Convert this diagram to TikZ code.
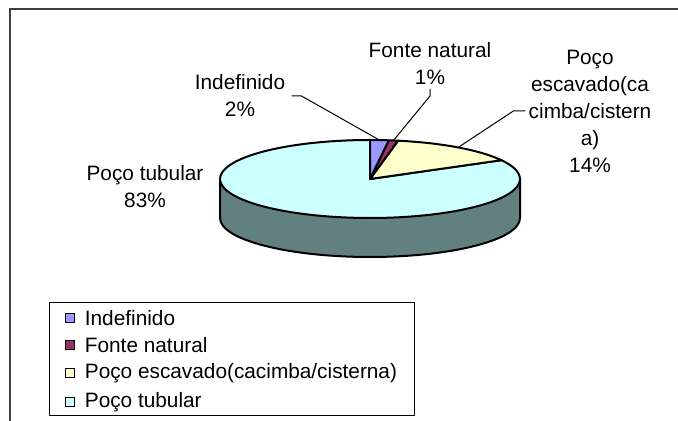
\documentclass[tikz,border=0pt]{standalone}
\usepackage{fontspec}
\setmainfont{Liberation Sans}
\usetikzlibrary{positioning}
\definecolor{ind}{RGB}{153,153,255}
\definecolor{fon}{RGB}{153,51,102}
\definecolor{esc}{RGB}{255,255,204}
\definecolor{tub}{RGB}{204,255,255}
\definecolor{side}{RGB}{99,128,128}
\definecolor{frame}{RGB}{64,64,64}
\tikzset{font=\fontsize{10.4}{13.5}\selectfont}
\tikzset{slice/.style={draw=black, line width=1pt, line join=round}}
\tikzset{lbl/.style={align=center, inner sep=0pt}}
\tikzset{leader/.style={line width=0.5pt}}
\tikzset{key/.style={draw=black, line width=0.5pt, minimum size=4.5pt, inner sep=0pt}}

\begin{document}
\begin{tikzpicture}[x=0.5pt, y=0.5pt]
  \useasboundingbox (0,0) rectangle (678,421);
  \draw[frame, line width=0.75pt] (678,412)--(10,412)--(10,0);

  \coordinate (C) at (370,242);
  % side of the pie
  \filldraw[slice, fill=side] (220,242) -- (220,203)
     arc[start angle=180, end angle=360, x radius=150, y radius=39] -- (520,242) -- cycle;
  % top of the pie
  \foreach \a/\b/\c in {28.8/-270/tub, 79.2/28.8/esc, 82.8/79.2/fon, 90/82.8/ind}{
    \filldraw[slice, fill=\c] (C) -- +(\a:150 and 39)
       arc[start angle=\a, end angle=\b, x radius=150, y radius=39] -- cycle;
  };

  \path (C) +(86.4:150 and 39) coordinate (pInd);
  \path (C) +(81:150 and 39) coordinate (pFon);
  \path (C) +(54:150 and 39) coordinate (pEsc);

  \node[lbl] (lblInd) at (240,325) {Indefinido\\2\%};
  \node[lbl] (lblFon) at (430,357.5) {Fonte natural\\1\%};
  \node[lbl] (lblEsc) at (590,310) {Poço\\escavado(ca\\cimba/cistern\\a)\\14\%};
  \node[lbl] (lblTub) at (145,234.5) {Poço tubular\\83\%};

  \draw[leader] ([xshift=3pt]lblInd.east) -- ++(10,0) -- (pInd);
  \draw[leader] ([yshift=-2pt]lblFon.south) -- ++(0,-7) -- (pFon);
  \draw[leader] ([xshift=-1.5pt]lblEsc.west) -- ++(-12,0) -- (pEsc);

  % legend
  \node[draw=black, line width=0.5pt, minimum width=182.5pt, minimum height=56.5pt,
        inner sep=0pt] (legend) at (231.5,61.5) {};
  \node[key, fill=ind] (k1) at (69.5,103) {};
  \node[key, fill=fon] (k2) at (69.5,76) {};
  \node[key, fill=esc] (k3) at (69.5,48) {};
  \node[key, fill=tub] (k4) at (69.5,19) {};
  \node[inner sep=0pt, right=5pt of k1] (t1) {Indefinido};
  \node[inner sep=0pt, right=5pt of k2] (t2) {Fonte natural};
  \node[inner sep=0pt, right=5pt of k3] (t3) {Poço escavado(cacimba/cisterna)};
  \node[inner sep=0pt, right=5pt of k4] (t4) {Poço tubular};
\end{tikzpicture}
\end{document}
